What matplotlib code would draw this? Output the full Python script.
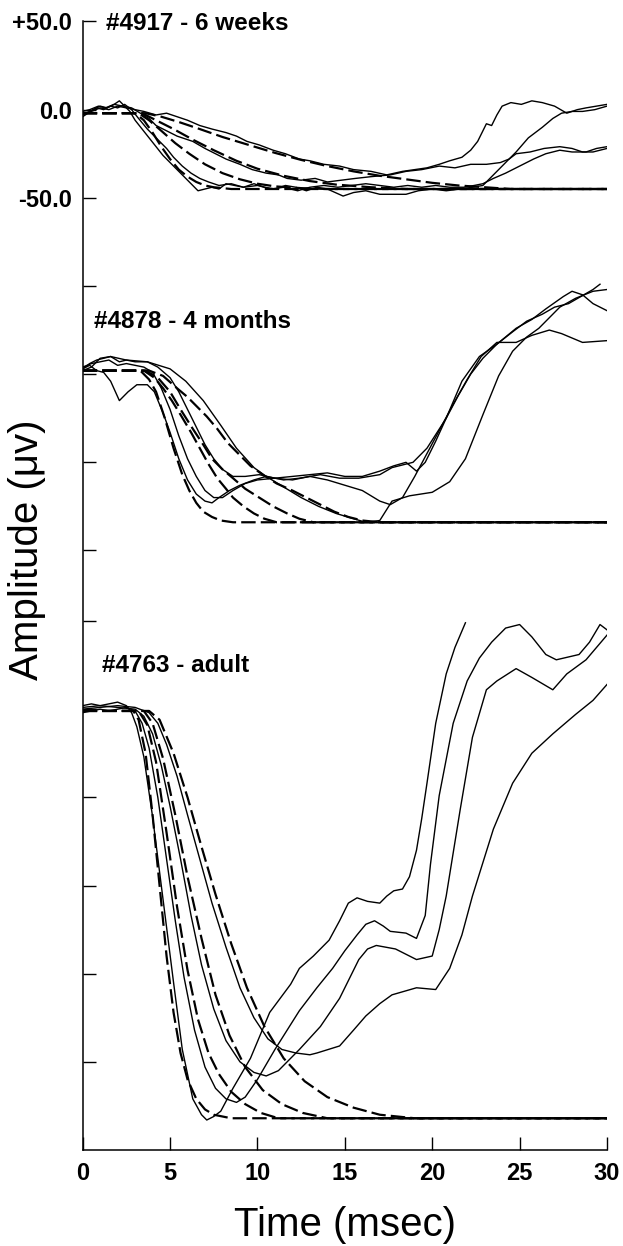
import matplotlib.pyplot as plt

plt.rcParams['font.family'] = ['Liberation Sans', 'DejaVu Sans']

# ---- #4917 - 6 weeks (amplitude in uV, time in ms) ----
top_solid_1 = [(0, -4), (0.3, -2), (0.6, 0), (1.0, 2), (1.4, 1), (1.8, 3), (2.1, 5), (2.4, 2), (2.7, -1),
               (3.0, -6), (3.4, -11), (3.8, -16), (4.2, -21), (4.6, -26), (5.0, -30), (5.4, -34), (5.9, -39),
               (6.3, -43), (6.6, -46), (7.0, -45), (7.4, -44), (7.8, -45), (8.2, -42), (8.7, -43), (9.2, -44),
               (9.8, -42), (10.4, -44), (11.0, -45), (11.6, -43), (12.2, -44), (12.8, -46), (13.4, -44),
               (14.0, -45), (14.9, -49), (15.5, -47), (16.2, -46), (17.0, -48), (17.7, -48), (18.5, -48),
               (19.2, -46), (20.0, -45), (20.8, -46), (21.6, -45), (22.3, -44), (22.9, -43), (23.4, -38),
               (24.0, -32), (24.8, -24), (25.5, -16), (26.3, -10), (26.9, -5), (27.4, -2), (28.0, -1),
               (28.6, -1), (29.3, 0), (30, 2)]
top_solid_2 = [(0, -3), (0.4, -1), (0.8, 1), (1.2, 0), (1.6, 2), (2.0, 1), (2.4, 3), (2.8, 0), (3.2, -5),
               (3.7, -11), (4.2, -16), (4.8, -22), (5.2, -27), (5.7, -32), (6.2, -36), (6.7, -39), (7.2, -41),
               (7.8, -43), (8.5, -42), (9.2, -44), (10.0, -43), (10.8, -45), (11.5, -44), (12.3, -46),
               (13.0, -44), (13.8, -43), (14.6, -44), (15.4, -43), (16.2, -42), (17.0, -43), (17.8, -44),
               (18.6, -43), (19.4, -44), (20.2, -43), (21.0, -44), (21.8, -44), (22.4, -43), (22.9, -42),
               (23.5, -39), (24.2, -36), (25.0, -32), (25.8, -28), (26.5, -25), (27.3, -23), (28.0, -24),
               (28.8, -24), (29.4, -22), (30, -21)]
top_solid_3 = [(0, -1), (0.4, 0), (0.9, 2), (1.3, 1), (1.8, 3), (2.3, 2), (2.8, 1), (3.3, -2), (3.8, -5),
               (4.2, -9), (4.8, -12), (5.4, -15), (6.3, -18), (7.0, -22), (7.6, -25), (8.2, -28), (9.0, -31),
               (9.7, -34), (10.5, -36), (11.2, -37), (11.7, -39), (12.5, -40), (13.3, -39), (14.0, -41),
               (14.8, -40), (15.6, -39), (16.5, -38), (17.6, -37), (18.5, -35), (19.4, -34), (20.4, -32),
               (21.3, -33), (22.2, -31), (23.1, -31), (23.9, -30), (24.4, -28), (24.8, -25), (25.6, -24),
               (26.4, -22), (27.3, -21), (28.0, -22), (28.6, -24), (29.2, -24), (30, -22)]
top_solid_4 = [(0, -2), (0.5, -1), (1.0, 1), (1.5, 0), (2.0, 2), (2.5, 1), (3.0, 0), (3.5, -1), (4.2, -3),
               (4.8, -2), (5.4, -4), (6.0, -6), (6.7, -9), (7.4, -11), (8.2, -13), (8.8, -15), (9.4, -18),
               (10.1, -20), (10.9, -23), (11.6, -25), (12.4, -28), (13.0, -29), (13.8, -31), (14.7, -32),
               (15.5, -34), (16.5, -35), (17.4, -37), (18.3, -35), (19.0, -34), (19.7, -33), (20.4, -31),
               (21.0, -29), (21.7, -27), (22.2, -23), (22.6, -18), (23.1, -8), (23.4, -9), (23.7, -3),
               (24.0, 2), (24.5, 4), (25.1, 3), (25.7, 5), (26.3, 4), (27.0, 2), (27.7, -2), (28.3, 0),
               (28.8, 1), (29.4, 2), (30, 3)]
top_fit_1 = [(0, -2), (3.0, -2), (3.5, -6), (4.0, -13), (4.5, -21), (5.0, -28), (5.5, -34), (6.0, -38),
             (6.5, -41), (7.0, -43), (7.5, -44), (8.5, -45), (30, -45)]
top_fit_2 = [(0, -2), (3.2, -2), (3.8, -6), (4.5, -12), (5.3, -19), (6.1, -25), (7.0, -31), (8.0, -36),
             (9.0, -39.5), (10, -42), (11, -43.5), (12.5, -44.5), (14, -45), (30, -45)]
top_fit_3 = [(0, -2), (3.4, -2), (4.2, -6), (5.2, -11), (6.3, -17), (7.5, -23), (8.8, -29), (10, -33.5),
             (11.5, -37.5), (13, -40.5), (14.5, -42.5), (16.5, -44), (18.5, -45), (30, -45)]
top_fit_4 = [(0, -2), (3.6, -2), (4.5, -4), (5.5, -7), (6.7, -11), (8.0, -15.5), (9.5, -20), (11, -24.5),
             (12.5, -28.5), (14, -32), (15.5, -35), (17, -37.5), (18.5, -39.5), (20, -41.5), (21.5, -43),
             (23, -44), (24.5, -45), (30, -45)]

# ---- #4878 - 4 months ----
mid_solid_1 = [(0, 3), (0.4, 5), (0.8, 2), (1.2, 1), (1.6, -4), (2.1, -15), (2.6, -10), (3.1, -6), (3.7, -6),
               (4.1, -10), (4.6, -22), (5.0, -33), (5.5, -48), (6.0, -60), (6.5, -68), (7.0, -72), (7.4, -73),
               (7.8, -70), (8.4, -66), (9.0, -63), (9.8, -60), (10.5, -58), (11.5, -60), (12.4, -59),
               (13.6, -57), (14.7, -59), (15.8, -59), (17.0, -57), (17.7, -53), (18.9, -50), (19.7, -42),
               (20.8, -25), (21.7, -4), (22.7, 10), (23.7, 17), (24.8, 26), (25.7, 31), (26.5, 37),
               (27.5, 44), (28.0, 47), (28.6, 45), (29.2, 40), (30, 36)]
mid_solid_2 = [(0, 4), (0.5, 6), (1.0, 7), (1.5, 8), (2.0, 5), (2.5, 6), (3.0, 5), (3.5, 4), (4.0, 1),
               (4.5, -8), (5.0, -20), (5.5, -35), (6.0, -48), (6.5, -58), (7.0, -66), (7.5, -70), (8.0, -70),
               (8.6, -66), (9.3, -62), (10.0, -60), (11, -59), (12, -60), (13, -58), (14, -60), (15, -63),
               (16, -66), (17, -72), (17.6, -74), (18.3, -70), (19.0, -58), (19.7, -45), (20.4, -32),
               (21.2, -17), (22.0, -3), (22.8, 10), (23.7, 18), (24.8, 18), (25.7, 22), (26.7, 25),
               (27.4, 23), (28.6, 18), (30, 19)]
mid_solid_3 = [(0, 2), (0.5, 4), (1.0, 9), (1.6, 10), (2.1, 7), (2.5, 8), (3.0, 7), (3.7, 7), (4.3, 4),
               (5.0, -2), (5.5, -10), (6.0, -20), (6.5, -30), (7.0, -40), (7.5, -48), (8.0, -54), (8.6, -58),
               (9.3, -58), (10.1, -57), (11, -59), (12, -58), (13, -57), (14, -56), (15, -58), (16, -58),
               (17, -55), (17.8, -52), (18.5, -50), (19.1, -55), (19.6, -50), (20.2, -38), (20.8, -25),
               (21.5, -12), (22.2, 0), (22.9, 9), (23.7, 17), (24.6, 24), (25.4, 30), (26.3, 34), (27.0, 38),
               (27.8, 40), (28.5, 44), (29.2, 48), (29.6, 51)]
mid_solid_4 = [(0, 3), (0.4, 6), (0.8, 8), (1.6, 10), (2.5, 8), (3.7, 7), (5.0, 3), (5.9, -4), (6.9, -15),
               (7.9, -29), (8.8, -42), (9.8, -53), (10.5, -58), (11.5, -64), (12.5, -70), (13.5, -75),
               (14.5, -79), (15.5, -82), (16.2, -84), (17.0, -83), (17.7, -72), (18.7, -69), (20.0, -67),
               (21.0, -61), (21.9, -48), (22.9, -23), (23.8, -1), (24.6, 13), (25.4, 21), (26.1, 26),
               (27.3, 38), (28.2, 43), (29.2, 47), (30, 48)]
mid_fit_1 = [(0, 2), (3.3, 2), (3.8, -3), (4.2, -10), (4.7, -25), (5.2, -42), (5.7, -57), (6.1, -66),
             (6.5, -73), (6.9, -78), (7.4, -81), (7.9, -83), (8.6, -84), (30, -84)]
mid_fit_2 = [(0, 2), (3.5, 2), (4.1, -2), (4.6, -8), (5.1, -15), (5.6, -23), (6.2, -33), (6.7, -42),
             (7.2, -51), (7.7, -59), (8.2, -65), (8.6, -70), (9.2, -75), (9.8, -79), (10.4, -82),
             (11.1, -84), (30, -84)]
mid_fit_3 = [(0, 2), (3.6, 2), (4.3, -2), (5.0, -10), (5.6, -20), (6.3, -31), (6.9, -40), (7.4, -48),
             (8.0, -54), (8.6, -59), (9.3, -65), (10.1, -70), (10.9, -75), (11.7, -79), (12.4, -82),
             (13.2, -84), (30, -84)]
mid_fit_4 = [(0, 2), (3.8, 2), (4.6, -1), (5.4, -8), (6.0, -13), (6.5, -18), (7.1, -24), (7.7, -31),
             (8.3, -39), (9.0, -46), (9.6, -52), (10.3, -57), (11.1, -62), (12.0, -66), (12.8, -70),
             (13.6, -74), (14.4, -78), (15.2, -81), (16.0, -83), (17.0, -84), (30, -84)]

# ---- #4763 - adult ----
bot_solid_1 = [(0, 2), (0.5, 3), (1.0, 2), (1.5, 3), (2.0, 4), (2.5, 2), (2.8, -2), (3.1, -10), (3.5, -27),
               (4.0, -61), (4.6, -108), (5.2, -155), (5.7, -193), (6.3, -221), (6.8, -230), (7.1, -233),
               (7.5, -231), (7.9, -228), (8.6, -215), (9.6, -198), (10.7, -172), (11.9, -156), (12.4, -147),
               (13.2, -140), (14.1, -131), (14.7, -120), (15.2, -110), (15.7, -107), (16.3, -109),
               (17.0, -110), (17.4, -106), (17.8, -103), (18.3, -102), (18.7, -95), (19.1, -80),
               (19.4, -62), (19.7, -42), (20.2, -8), (20.8, 20), (21.3, 35), (21.9, 49)]
bot_solid_2 = [(0, -2), (0.5, -1), (1.0, 0), (1.5, -1), (2.0, 0), (2.5, 1), (3.0, -1), (3.4, -8), (3.8, -22),
               (4.3, -50), (4.8, -85), (5.3, -120), (5.8, -152), (6.4, -182), (7.0, -203), (7.6, -215),
               (8.2, -221), (8.8, -223), (9.3, -220), (10, -210), (11, -193), (12.4, -171), (13.4, -158),
               (14.3, -147), (15.0, -137), (15.7, -128), (16.2, -122), (16.7, -120), (17.2, -123),
               (17.6, -126), (18.5, -127), (19.1, -130), (19.6, -117), (19.9, -88), (20.4, -49), (21.2, -8),
               (22.0, 16), (22.7, 29), (23.4, 38), (24.2, 46), (25.0, 48), (25.7, 41), (26.5, 31),
               (27.1, 28), (28.4, 31), (29.0, 38), (29.6, 48), (30, 45)]
bot_solid_3 = [(0, 1), (1, 2), (2, 1), (3.0, 0), (3.5, -4), (4.0, -14), (4.5, -32), (5.0, -55), (5.6, -85),
               (6.2, -117), (6.8, -145), (7.5, -170), (8.2, -188), (9.0, -200), (9.8, -206), (10.5, -208),
               (11.2, -205), (12.4, -193), (13.6, -180), (14.7, -164), (15.3, -152), (15.8, -142),
               (16.3, -136), (16.8, -134), (17.9, -136), (19.1, -142), (20.0, -140), (20.4, -125),
               (20.8, -106), (21.6, -57), (22.3, -16), (23.1, 11), (23.7, 16), (24.8, 23), (25.7, 18),
               (26.9, 11), (27.7, 20), (28.8, 28), (30, 42)]
bot_solid_4 = [(0, 0), (1, 1), (2, 2), (3.0, 1), (3.8, -2), (4.3, -8), (4.8, -20), (5.4, -38), (6.0, -60),
               (6.7, -85), (7.4, -110), (8.2, -135), (9.0, -158), (9.8, -175), (10.6, -187), (11.4, -193),
               (12.2, -195), (13.0, -196), (13.4, -195), (14.7, -191), (15.5, -182), (16.2, -174),
               (17.0, -167), (17.7, -162), (19.1, -158), (20.2, -159), (21.0, -147), (21.7, -128),
               (22.3, -106), (23.5, -68), (24.6, -42), (25.7, -25), (26.9, -14), (28.2, -3), (29.2, 5),
               (30, 14)]
bot_fit_1 = [(0, -1), (2.9, -1), (3.2, -6), (3.6, -25), (4.0, -60), (4.4, -100), (4.8, -140), (5.2, -172),
             (5.6, -195), (6.0, -210), (6.5, -221), (7.0, -227), (7.5, -230), (8.5, -232), (30, -232)]
bot_fit_2 = [(0, -1), (3.2, -1), (3.7, -9), (4.2, -30), (4.8, -70), (5.4, -112), (6.0, -148), (6.6, -176),
             (7.2, -195), (7.8, -207), (8.5, -217), (9.3, -224), (10.2, -229), (11.2, -232), (30, -232)]
bot_fit_3 = [(0, -1), (3.5, -1), (4.0, -8), (4.6, -28), (5.3, -60), (6.0, -95), (6.8, -130), (7.6, -162),
             (8.4, -185), (9.3, -203), (10.3, -216), (11.4, -224), (12.6, -229), (14, -232), (30, -232)]
bot_fit_4 = [(0, -1), (3.8, -1), (4.4, -6), (5.2, -25), (6.0, -50), (6.8, -78), (7.6, -105), (8.5, -133),
             (9.4, -158), (10.4, -180), (11.5, -198), (12.7, -211), (14.0, -220), (15.5, -226), (17.0, -230),
             (19, -232), (30, -232)]

panel_names = ['#4917 - 6 weeks', '#4878 - 4 months', '#4763 - adult']
panel_offsets = [0, -150, -340]   # vertical stacking of the three records
panel_solids = [[top_solid_1, top_solid_2, top_solid_3, top_solid_4],
                [mid_solid_1, mid_solid_2, mid_solid_3, mid_solid_4],
                [bot_solid_1, bot_solid_2, bot_solid_3, bot_solid_4]]
panel_fits = [[top_fit_1, top_fit_2, top_fit_3, top_fit_4],
              [mid_fit_1, mid_fit_2, mid_fit_3, mid_fit_4],
              [bot_fit_1, bot_fit_2, bot_fit_3, bot_fit_4]]
title_pos = [(1.33, 49), (0.65, -120), (1.1, -315)]

ytick_vals = [50, 0, -50, -100, -150, -200, -250, -290, -340, -390, -440, -490, -540]
ytick_text = ['+50.0', '0.0', '-50.0'] + [''] * 10

fig = plt.figure(figsize=(6.23, 12.46), dpi=100)
ax = fig.add_axes([0.1327, 0.07705, 0.8416, 0.9057])

for off, solids, fits in zip(panel_offsets, panel_solids, panel_fits):
    for tr in fits:
        t, v = zip(*tr)
        ax.plot(t, [x + off for x in v], color='black', lw=1.6, dashes=(6.5, 2.3))
    for tr in solids:
        t, v = zip(*tr)
        ax.plot(t, [x + off for x in v], color='black', lw=1.0)

for name, (tx, ty) in zip(panel_names, title_pos):
    ax.text(tx, ty, name, fontsize=17.5, fontweight='bold', ha='left', va='center')

ax.set_xlim(0, 30)
ax.set_ylim(-590, 50)
ax.set_xticks(range(0, 31, 5))
ax.set_yticks(ytick_vals)
ax.set_yticklabels(ytick_text)
ax.tick_params(direction='in', length=9.5, width=1, labelsize=17)
ax.tick_params(axis='x', pad=9)
ax.tick_params(axis='y', pad=7.5)
for lbl in ax.get_xticklabels() + ax.get_yticklabels():
    lbl.set_fontweight('bold')

ax.spines['top'].set_visible(False)
ax.spines['right'].set_visible(False)
ax.spines['left'].set_linewidth(1.1)
ax.spines['bottom'].set_linewidth(1.1)

ax.set_xlabel('Time (msec)', fontsize=29, va='center')
ax.xaxis.set_label_coords(0.5, -0.0665)
ax.set_ylabel('Amplitude (μv)', fontsize=29, va='center')
ax.yaxis.set_label_coords(-0.106, 0.5317)

fig.savefig('out.png', dpi=100)
